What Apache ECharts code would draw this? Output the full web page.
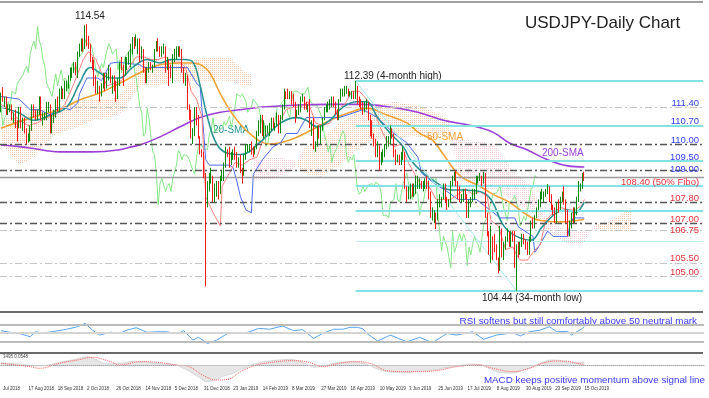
<!DOCTYPE html>
<html><head><meta charset="utf-8">
<script src="https://cdn.jsdelivr.net/npm/echarts@6/dist/echarts.min.js"></script>
<style>html,body{margin:0;padding:0;background:#fff}#c{width:709px;height:398px}</style>
</head><body><div id="c"></div>
<script>
// ---------- DATA ----------
const tickCats = [0,14,30,46,62,78,94,110,126,142,158,174,190,206,222,238,254,270,286,302,318];
const tickLabels = ["Jul 2018","17 Aug 2018","18 Sep 2018","2 Oct 2018","26 Oct 2018","14 Nov 2018","5 Dec 2018","31 Dec 2018","23 Jan 2019","14 Feb 2019","8 Mar 2019","27 Mar 2019","18 Apr 2019","10 May 2019","3 Jun 2019","25 Jun 2019","17 Jul 2019","8 Aug 2019","30 Aug 2019","23 Sep 2019","15 Oct 2019"];

const firstOpen = 111.5;
const closes = [111.85,111.70,111.70,111.25,111.40,111.40,111.00,111.10,110.90,110.70,111.20,110.70,110.90,110.50,110.10,110.30,110.55,111.30,111.25,111.10,
111.20,111.70,111.00,111.00,111.10,111.50,111.50,110.70,111.00,111.10,111.60,111.30,112.00,112.05,111.90,112.30,112.30,112.50,112.60,112.80,
112.95,112.70,113.40,113.70,113.90,113.60,114.45,113.90,113.70,113.20,112.95,112.30,112.15,112.20,111.80,112.25,112.65,112.20,112.55,112.80,
112.40,112.50,112.40,111.90,112.40,113.05,112.90,112.70,113.20,113.20,113.40,113.50,113.95,113.80,113.80,113.80,113.60,113.60,112.80,112.55,
112.80,113.05,112.90,112.95,113.55,113.80,113.65,113.40,113.50,113.60,112.80,113.20,112.70,112.65,113.30,113.40,113.40,113.60,113.40,112.80,
112.50,112.50,111.40,111.20,110.30,110.40,111.35,110.95,110.30,109.70,109.60,108.90,107.70,108.50,108.70,108.75,108.20,108.40,108.50,108.20,
108.70,108.70,109.20,109.75,109.65,109.40,109.60,109.65,109.55,109.40,109.40,109.00,108.85,109.50,109.90,109.95,109.95,109.80,109.75,109.80,
110.40,110.50,111.00,110.45,110.50,110.55,110.60,110.60,110.85,110.70,110.70,111.05,110.60,111.00,111.40,111.90,111.85,111.80,111.90,111.75,
111.60,111.20,111.25,111.40,111.70,111.70,111.50,111.40,111.40,110.70,110.80,109.90,110.00,110.60,110.50,110.60,110.90,111.35,111.40,111.50,
111.60,111.70,111.50,111.15,111.00,111.60,112.00,112.00,112.00,112.00,111.90,111.90,111.90,111.85,112.15,111.65,111.60,111.45,111.40,111.45,
111.50,111.10,110.80,110.30,110.10,109.70,109.95,109.30,109.60,109.60,109.90,110.10,110.10,110.50,110.35,109.60,109.30,109.50,109.40,109.60,
109.60,108.30,108.10,108.20,108.40,108.20,108.20,108.45,108.50,108.50,108.40,108.55,108.55,108.45,108.10,107.30,107.30,107.30,107.20,107.80,
107.80,107.90,108.50,107.90,107.80,107.80,108.50,108.70,108.90,108.45,108.40,107.90,107.90,108.20,108.10,107.30,107.70,107.80,108.20,108.20,
108.65,108.70,108.75,108.60,108.70,107.35,106.60,105.95,106.50,106.30,106.10,105.70,105.30,106.70,105.90,106.10,106.40,106.60,106.30,106.60,
106.40,105.40,106.10,105.80,106.20,106.50,106.30,106.20,105.90,106.40,106.95,106.90,107.25,107.55,107.80,108.10,108.10,108.15,108.15,108.40,
108.00,107.55,107.50,107.10,107.75,107.70,107.90,108.05,107.80,107.50,106.90,106.90,107.25,107.10,107.50,107.90,108.30,108.40,108.80,108.75];
const highs = [111.95,112.15,111.80,111.80,111.50,111.50,111.50,111.20,111.30,110.90,111.40,111.40,111.00,111.00,110.60,110.40,110.70,111.50,111.50,111.30,
111.30,111.80,111.80,111.20,111.20,111.60,111.60,111.50,111.10,111.30,111.70,111.80,112.10,112.20,112.10,112.40,112.40,112.60,112.90,112.90,
113.10,113.10,113.50,113.80,114.00,114.00,114.50,114.54,114.10,113.80,113.30,113.20,112.60,112.40,112.20,112.30,112.70,112.70,112.70,113.00,
112.90,112.60,112.60,112.40,112.50,113.10,113.30,113.00,113.30,113.30,113.50,113.80,114.05,114.05,114.15,114.00,114.00,113.70,113.60,112.90,
112.90,113.10,113.10,113.00,113.60,113.90,114.00,113.70,113.70,113.80,113.70,113.30,113.20,113.00,113.40,113.60,113.70,113.70,113.70,113.60,
112.90,112.70,112.60,111.50,111.30,110.60,111.40,111.40,111.10,110.30,109.80,109.70,108.90,108.60,108.90,109.10,108.80,108.50,108.60,108.60,
108.80,109.00,109.30,109.90,109.80,109.90,109.70,109.80,109.90,109.70,109.50,109.60,109.10,109.60,110.00,110.00,110.00,110.10,109.90,109.90,
110.50,110.90,111.10,111.10,110.90,110.70,110.70,110.80,111.00,111.00,110.80,111.20,111.10,111.10,111.50,112.10,112.00,112.10,112.00,112.00,
111.90,111.60,111.30,111.50,111.80,111.90,111.80,111.60,111.50,111.70,110.90,111.00,110.10,110.70,110.70,110.70,111.00,111.40,111.50,111.60,
111.70,111.80,111.80,111.60,111.30,111.70,112.10,112.10,112.20,112.20,112.10,112.00,112.00,112.00,112.39,112.20,111.80,111.70,111.60,111.60,
111.70,111.60,111.10,110.90,110.40,110.20,110.10,109.90,109.70,109.80,110.00,110.30,110.30,110.70,110.60,110.40,109.80,109.60,109.60,109.70,
109.90,109.70,108.40,108.40,108.50,108.50,108.50,108.80,108.80,108.70,108.60,108.60,108.70,108.80,108.60,108.20,107.60,107.50,107.40,107.90,
108.10,108.00,108.50,108.50,108.00,107.90,108.60,108.80,108.95,109.00,108.60,108.40,108.10,108.30,108.30,108.10,107.90,108.00,108.30,108.30,
108.80,108.80,108.90,108.80,108.95,108.90,107.40,106.70,106.90,106.50,106.60,106.20,105.70,106.90,106.80,106.30,106.50,106.80,106.70,106.70,
106.70,106.70,106.20,106.30,106.30,106.60,106.60,106.40,106.30,106.50,107.10,107.20,107.30,107.60,107.90,108.20,108.30,108.20,108.30,108.48,
108.40,108.10,107.70,107.60,107.80,107.90,108.00,108.20,108.40,107.90,107.40,107.10,107.40,107.60,107.60,108.00,108.60,108.50,108.90,108.95];
const lows = [111.20,111.60,111.40,111.10,111.10,111.20,110.90,110.80,110.60,110.10,110.60,110.60,110.50,110.40,110.00,110.05,110.10,110.50,111.00,110.90,
110.90,111.10,110.90,110.70,110.90,110.90,111.20,110.40,110.40,110.80,111.00,111.20,111.20,111.70,111.70,111.70,112.00,112.10,112.40,112.50,
112.70,112.60,112.50,113.30,113.50,113.50,113.60,113.70,113.60,113.10,112.80,112.20,111.90,111.90,111.60,111.80,112.10,112.00,112.10,112.40,
112.30,111.90,112.00,111.60,111.70,112.20,112.80,112.20,112.60,112.80,113.00,112.90,113.40,113.60,113.70,113.40,113.10,113.20,112.70,112.30,
112.30,112.70,112.80,112.70,112.90,113.50,113.50,113.30,113.30,113.40,112.70,112.80,112.20,112.50,112.30,113.10,113.20,113.30,113.30,112.70,
112.30,112.20,111.30,110.90,110.20,110.00,110.30,110.70,110.20,109.60,109.50,108.70,104.60,107.60,108.20,108.50,107.80,107.80,108.00,107.90,
108.10,108.60,108.60,109.10,109.50,109.10,109.20,109.40,109.40,109.10,109.10,108.90,108.50,108.80,109.40,109.70,109.70,109.60,109.50,109.60,
109.80,110.30,110.40,110.30,110.20,110.30,110.40,110.30,110.50,110.60,110.50,110.70,110.40,110.40,110.90,111.30,111.70,111.70,111.70,111.50,
111.40,110.80,111.00,111.10,111.20,111.60,111.30,111.30,111.20,110.60,110.30,109.80,109.70,109.90,110.20,110.00,110.50,110.90,111.20,111.20,
111.30,111.40,111.40,111.10,110.90,110.90,111.60,111.80,111.80,111.90,111.80,111.80,111.70,111.70,111.70,111.50,111.40,111.30,111.10,111.20,
111.30,110.90,110.30,110.20,109.90,109.50,109.50,109.00,109.20,109.30,109.50,109.80,109.90,110.00,110.20,109.50,109.20,109.30,109.20,109.20,
109.40,108.30,107.80,107.90,107.90,108.00,108.00,108.10,108.30,108.30,108.30,108.20,108.30,108.30,107.90,107.20,107.10,107.00,106.78,107.10,
107.60,107.60,107.90,107.80,107.50,107.60,107.80,108.40,108.60,108.40,107.90,107.80,107.80,107.80,107.90,107.20,107.20,107.60,107.80,107.90,
108.10,108.50,108.60,108.40,108.50,107.20,106.50,105.80,105.50,105.60,105.90,105.60,105.10,105.20,105.70,105.60,106.00,106.30,106.10,106.10,
106.30,105.30,104.44,105.70,105.80,106.10,106.20,106.00,105.80,105.80,106.30,106.80,106.80,107.20,107.50,107.60,107.90,107.80,108.00,108.10,
107.80,107.50,107.30,107.00,107.00,107.40,107.50,107.80,107.70,107.00,106.50,106.50,106.80,107.00,107.00,107.30,107.80,108.20,108.30,108.60];

const sma20 = [[0,111.4],[10,111.17],[18,110.9],[27,111.1],[36,111.4],[43,112.3],[49,112.9],[54,112.7],[60,112.5],[65,112.5],[72,112.9],[80,113.2],[87,113.07],[93,113.2],[100,113.2],[105,113.1],[109,112.2],[113,111.0],[118,110.0],[124,109.65],[131,109.6],[143,110.15],[153,110.8],[162,111.0],[167,110.9],[173,110.65],[180,110.9],[187,111.4],[195,111.6],[200,111.6],[206,111.0],[213,110.4],[220,109.9],[224,109.4],[231,108.9],[239,108.5],[246,108.26],[253,108.26],[262,108.2],[268,107.9],[275,106.9],[282,106.5],[290,106.36],[296,106.86],[304,107.4],[310,107.5],[314,107.4],[319,107.8]];
const sma50 = [[0,110.6],[16,110.98],[32,111.3],[43,111.67],[54,111.93],[65,112.3],[76,112.7],[87,113.0],[98,113.07],[105,113.07],[113,112.8],[120,111.9],[127,111.1],[136,110.4],[147,110.0],[158,110.15],[169,110.5],[180,110.9],[191,111.2],[200,111.36],[211,111.1],[222,110.8],[229,110.4],[236,110.15],[242,109.6],[251,108.8],[262,108.4],[269,108.1],[278,107.8],[288,107.3],[295,107.1],[306,107.05],[315,107.1],[319,107.15]];
const sma200 = [[0,109.96],[10,109.9],[16,109.85],[32,109.7],[50,109.7],[64,109.77],[72,109.9],[76,109.96],[87,110.27],[98,110.65],[109,111.0],[120,111.2],[131,111.3],[143,111.4],[162,111.48],[180,111.5],[198,111.5],[213,111.4],[228,111.2],[242,110.9],[257,110.7],[269,110.45],[278,110.04],[288,109.77],[299,109.4],[310,109.17],[319,109.13]];
const kijun = [[0,111.8],[10,111.7],[16,111.3],[21,111.3],[27,111.1],[32,111.4],[38,111.3],[42,111.55],[43,111.9],[47,112.5],[53,112.5],[55,112.4],[60,113.06],[64,113.1],[76,113.0],[78,112.9],[102,112.9],[107,112.3],[109,112.16],[112,109.4],[114,109.2],[125,109.2],[127,109.1],[129,108.6],[131,108.0],[134,107.5],[137,107.4],[138,108.85],[143,109.4],[149,109.9],[153,110.04],[156,110.4],[162,110.4],[167,111.0],[185,111.0],[198,111.3],[206,111.0],[215,110.4],[222,110.04],[228,109.5],[230,108.9],[239,108.4],[242,108.3],[250,107.9],[260,107.9],[273,107.2],[281,107.2],[283,106.86],[291,106.5],[292,105.9],[294,106.1],[299,106.7],[302,106.5],[310,106.5],[311,106.9],[313,107.2],[319,107.2]];
const tenkan = [[0,111.5],[5,111.3],[10,110.9],[15,110.7],[20,110.8],[25,111.0],[30,111.1],[35,111.5],[40,112.3],[45,113.2],[48,113.5],[52,113.2],[55,112.7],[58,112.2],[62,112.3],[66,112.4],[70,112.9],[74,113.3],[78,113.3],[82,113.2],[86,113.2],[90,113.3],[94,113.1],[98,113.1],[101,112.9],[104,112.0],[107,111.7],[110,111.0],[112,108.0],[116,107.4],[120,106.9],[121,108.4],[125,108.9],[128,109.3],[132,109.2],[136,109.4],[140,109.5],[144,110.3],[148,110.5],[152,110.8],[156,111.3],[160,111.4],[164,111.4],[168,111.6],[172,110.8],[176,110.7],[180,110.8],[184,111.3],[188,111.5],[192,112.0],[196,112.0],[200,111.7],[204,111.3],[207,110.7],[211,110.1],[215,109.9],[219,110.0],[222,109.4],[226,108.9],[230,108.4],[234,108.4],[238,107.9],[242,107.9],[246,107.9],[250,108.1],[254,108.3],[258,108.1],[262,108.2],[266,108.0],[268,107.1],[272,106.9],[276,106.0],[280,106.1],[282,105.8],[284,105.6],[288,105.6],[291,105.9],[295,106.2],[298,107.1],[302,107.4],[306,107.6],[310,107.5],[314,107.5],[318,107.7],[319,107.9]];
const cloudCats = [0,10,18,30,40,50,60,66,72,76,85,95,105,115,125,132,137,138,150,160,165,175,185,195,205,215,225,235,245,250,252,262,270,280,290,300,310,318,325,332,338,345];
const spanA = [111.0,111.0,111.3,111.3,111.6,111.7,111.7,111.9,112.5,113.2,113.2,113.0,113.2,113.3,113.3,112.8,112.6,108.6,108.7,109.0,109.8,110.2,110.8,111.2,111.5,111.6,111.5,111.3,110.9,108.8,108.6,108.3,108.3,107.9,107.4,106.65,106.2,106.2,106.95,107.05,107.3,107.6];
const spanB = [110.0,109.2,109.5,110.4,110.6,110.9,111.0,111.2,111.8,112.2,112.2,112.4,112.4,112.4,112.4,112.2,112.2,109.4,109.5,109.4,108.9,108.75,109.2,109.8,110.2,110.2,110.3,110.2,110.3,110.2,110.15,110.1,110.0,109.0,108.4,107.05,106.72,106.72,106.72,106.7,106.7,106.67];
const rsi = [[0,55.5],[5,51.6],[10,49],[16,41],[19,53],[23,50],[28,53],[36,59],[42,65],[46,73],[50,57],[54,45],[60,52],[65,49],[69,57],[74,62.6],[80,51.6],[85,53],[91,53],[94,49],[98,51],[100,55.5],[105,33],[108,40],[113,25],[118,33],[124,49],[129,49],[135,51.6],[141,61],[147,59],[154,66.7],[160,55.5],[165,58],[171,37.3],[176,49],[182,59],[187,59],[191,63.5],[195,63.5],[198,60],[200,49],[206,31],[213,45],[222,29],[229,39.7],[236,27],[244,49],[249,45],[258,53],[264,35],[271,45],[280,50.7],[284,43],[289,53],[295,57],[300,65],[304,53],[310,54],[312,45],[318,61],[319,65]];
const rsiLevels = [70, 50, 30];
const macdHist = [[0,0.25],[10,0.1],[20,-0.1],[25,-0.05],[32,0.3],[40,0.6],[47,0.92],[52,0.6],[56,0.2],[60,0.15],[66,0.2],[72,0.4],[78,0.4],[84,0.2],[90,0.1],[95,0.05],[98,-0.2],[104,-0.8],[110,-1.6],[112,-1.85],[117,-1.7],[122,-1.2],[126,-1.0],[130,-0.6],[134,-0.3],[138,0.1],[145,0.4],[152,0.55],[158,0.63],[164,0.4],[168,0.0],[171,-0.25],[176,-0.15],[182,0.2],[188,0.35],[194,0.4],[198,0.25],[202,-0.1],[208,-0.6],[214,-0.8],[222,-0.85],[228,-0.7],[236,-0.6],[242,-0.35],[250,-0.1],[256,0.1],[262,0.05],[266,-0.3],[272,-0.8],[278,-0.9],[282,-0.85],[286,-0.5],[290,-0.3],[294,0.1],[298,0.45],[302,0.55],[306,0.5],[310,0.3],[314,0.25],[319,0.35]];
const macdSignal = [[0,0.19],[16,-0.19],[21,-0.37],[32,0.19],[42,0.56],[50,0.85],[60,0.37],[65,0],[76,0.37],[85,0.3],[96,0],[103,-0.19],[110,-1.1],[118,-1.67],[124,-1.6],[131,-0.74],[140,0],[151,0.37],[160,0.48],[169,0.26],[176,-0.19],[185,0.19],[195,0.37],[203,0.1],[211,-0.63],[222,-0.74],[231,-0.74],[240,-0.56],[249,-0.19],[262,0],[269,-0.37],[280,-0.74],[289,-0.37],[296,0.19],[304,0.44],[310,0.4],[315,0.19],[319,0.06]];

const darkLevels = [110.00, 109.00, 107.80, 107.00];
const lightLevels = [111.40, 106.75, 105.50, 105.00];
const bidPrice = 108.75;
const fibLevels = [112.39, 110.69, 109.35, 108.41, 107.48, 106.32, 104.44];
const fibHigh = [194, 112.39];
const fibLow = [282, 104.44];
const rightLabels = [["111.40",111.40],["110.70",110.69],["110.00",110.00],["109.50",109.35],["109.00",109.00],["108.40 (50% Fibo)",108.41],["107.80",107.80],["107.00",107.00],["106.75",106.75],["105.50",105.50],["105.00",105.00]];

// ---------- BUILD ----------
const FONT = 'Liberation Sans, Arial, sans-serif';
const NC = 385;
const catData = Array.from({length: NC}, (_, i) => String(i));
const labelMap = {};
tickCats.forEach((c, k) => { labelMap[c] = tickLabels[k]; });
const isTick = (i) => labelMap[i] !== undefined;

const ohlc = closes.map((c, i) => {
  const o = i === 0 ? firstOpen : closes[i - 1];
  return [o, c, Math.min(lows[i], o, c), Math.max(highs[i], o, c)];
});
const chikou = closes.slice(26).map((c, i) => [i, c]);

function dotPattern(color, sx, sy) {
  const cv = document.createElement('canvas');
  cv.width = sx; cv.height = sy;
  const g = cv.getContext('2d');
  g.fillStyle = color; g.fillRect(0, 0, 1, 1);
  return { image: cv, repeat: 'repeat' };
}
const patOrange = dotPattern('rgba(242,165,120,0.6)', 2, 2);
const patPink = dotPattern('rgba(238,160,178,0.55)', 2, 2);

const BLUE = '#2f3ef0', RED = '#e8323c', DASHDOT = [7, 3, 2, 3];

const ml = [];
darkLevels.forEach(v => ml.push({ yAxis: v, lineStyle: { color: '#555', width: 1.3, type: DASHDOT } }));
lightLevels.forEach(v => ml.push({ yAxis: v, lineStyle: { color: '#c4c4c4', width: 1.2, type: DASHDOT } }));
ml.push({ yAxis: bidPrice, lineStyle: { color: '#9a9a9a', width: 1.4, type: 'solid' } });
fibLevels.forEach(v => {
  const thin = v === 106.32;
  ml.push([{ coord: [fibHigh[0], v], lineStyle: { color: thin ? '#bdf0f0' : '#84e2e2', width: thin ? 1 : 2, type: 'solid' } }, { coord: [NC - 1, v] }]);
});
ml.push([{ coord: fibHigh, lineStyle: { color: '#a6ecec', width: 1, type: 'solid' } }, { coord: fibLow }]);

const mp = rightLabels.map(([t, v]) => ({
  coord: [NC - 1, v], symbolSize: 0,
  label: { show: true, position: 'left', distance: 4, formatter: t, color: v > 108.5 ? BLUE : RED,
    fontSize: 9.5, fontFamily: FONT, offset: [0, t === '109.00' ? -1 : (t === '106.75' ? 0.5 : -4)] }
}));

const lineS = (data, color, width, extra) => Object.assign({
  type: 'line', xAxisIndex: 0, yAxisIndex: 0, data, showSymbol: false, symbol: 'none', silent: true,
  lineStyle: { color, width }, z: 4
}, extra || {});

const chart = echarts.init(document.getElementById('c'), null, { renderer: 'canvas', width: 709, height: 398 });
chart.setOption({
  animation: false,
  backgroundColor: '#fff',
  grid: [
    { left: 0, width: 704, top: 3, height: 308 },
    { left: 0, width: 704, top: 312, height: 42 },
    { left: 0, width: 704, top: 354, height: 30 }
  ],
  xAxis: [
    { type: 'category', gridIndex: 0, data: catData, show: false },
    { type: 'category', gridIndex: 1, data: catData, show: false },
    { type: 'category', gridIndex: 2, data: catData,
      axisLine: { lineStyle: { color: '#a0a0a0', width: 1 } },
      axisTick: { alignWithLabel: true, interval: isTick, length: 7, lineStyle: { color: '#444' } },
      axisLabel: { interval: isTick, formatter: v => labelMap[v] || '', fontSize: 4.5, color: '#333', align: 'left', margin: 2.5, padding: [0, 0, 0, 2], fontFamily: FONT },
      splitLine: { show: false } }
  ],
  yAxis: [
    { type: 'value', gridIndex: 0, min: 103.674, max: 115.341, show: false },
    { type: 'value', gridIndex: 1, min: 0, max: 100, show: false },
    { type: 'value', gridIndex: 2, min: -2.111, max: 1.222, show: false }
  ],
  series: [
    { type: 'custom', xAxisIndex: 0, yAxisIndex: 0, data: [[0, 110]], silent: true, z: 1, clip: true,
      encode: { x: 0, y: 1 },
      renderItem: (params, api) => {
        const children = [];
        for (let k = 0; k < cloudCats.length - 1; k++) {
          const c0 = cloudCats[k], c1 = cloudCats[k + 1];
          const pts = [api.coord([c0, spanA[k]]), api.coord([c1, spanA[k + 1]]), api.coord([c1, spanB[k + 1]]), api.coord([c0, spanB[k]])];
          const bull = (spanA[k] + spanA[k + 1]) >= (spanB[k] + spanB[k + 1]);
          children.push({ type: 'polygon', shape: { points: pts }, style: { fill: bull ? patOrange : patPink } });
        }
        return { type: 'group', children };
      } },
    lineS(chikou, '#86e886', 1, { z: 3 }),
    lineS(sma200, '#9b3fd6', 1.6, { smooth: 0.4 }),
    lineS(sma50, '#f5a234', 1.6, { smooth: 0.4 }),
    lineS(kijun, '#4c6af2', 1, {}),
    lineS(tenkan, '#ff8080', 1, {}),
    lineS(sma20, '#2a9494', 1.6, { smooth: 0.4 }),
    { type: 'candlestick', xAxisIndex: 0, yAxisIndex: 0, data: ohlc, barWidth: 1.3, silent: true, z: 5,
      itemStyle: { color: '#0a9a0a', color0: '#ff1a1a', borderColor: '#0a8a0a', borderColor0: '#ff1a1a', borderWidth: 1 },
      markLine: { symbol: 'none', silent: true, animation: false, label: { show: false }, data: ml },
      markPoint: { symbol: 'circle', symbolSize: 0, silent: true, animation: false, data: mp } },
    { type: 'line', xAxisIndex: 1, yAxisIndex: 1, data: rsi, showSymbol: false, silent: true,
      lineStyle: { color: '#5aa6f0', width: 1 }, z: 4,
      markLine: { symbol: 'none', silent: true, animation: false, label: { show: false },
        data: rsiLevels.map(v => ({ yAxis: v, lineStyle: { color: v === 50 ? '#d4d4d4' : '#bcbcbc', width: 2, type: 'solid' } })) } },
    { type: 'line', xAxisIndex: 2, yAxisIndex: 2, data: macdHist, showSymbol: false, silent: true, smooth: 0.3,
      lineStyle: { color: '#c8c8c8', width: 0.6 }, areaStyle: { color: '#dcdcdc' }, z: 2,
      markLine: { symbol: 'none', silent: true, animation: false, label: { show: false },
        data: [{ yAxis: 0, lineStyle: { color: '#c8c8c8', width: 1, type: 'dotted' } }] } },
    { type: 'line', xAxisIndex: 2, yAxisIndex: 2, data: macdSignal, showSymbol: false, silent: true, smooth: 0.4,
      lineStyle: { color: '#ff5a5a', width: 1, type: 'dotted' }, z: 4 }
  ],
  graphic: [
    { type: 'line', shape: { x1: 0, y1: 2, x2: 703, y2: 2 }, style: { stroke: '#808080', lineWidth: 1.5 }, silent: true },
    { type: 'line', shape: { x1: 0, y1: 312, x2: 703, y2: 312 }, style: { stroke: '#6a6a6a', lineWidth: 2 }, silent: true },
    { type: 'line', shape: { x1: 0, y1: 353, x2: 703, y2: 353 }, style: { stroke: '#6a6a6a', lineWidth: 2 }, silent: true },
    { type: 'text', x: 525, y: 23, style: { text: 'USDJPY-Daily Chart', fill: '#222', font: '17px ' + FONT, textVerticalAlign: 'middle' }, silent: true },
    { type: 'text', x: 90, y: 16, style: { text: '114.54', fill: '#222', font: '10px ' + FONT, textAlign: 'center', textVerticalAlign: 'middle' }, silent: true },
    { type: 'text', x: 344, y: 76, style: { text: '112.39 (4-month high)', fill: '#222', font: '10px ' + FONT, textVerticalAlign: 'middle' }, silent: true },
    { type: 'text', x: 482, y: 298, style: { text: '104.44 (34-month low)', fill: '#222', font: '10px ' + FONT, textVerticalAlign: 'middle' }, silent: true },
    { type: 'text', x: 213, y: 130, style: { text: '20-SMA', fill: '#2a9494', font: '10px ' + FONT, textVerticalAlign: 'middle' }, silent: true },
    { type: 'text', x: 427, y: 137, style: { text: '50-SMA', fill: '#f5a234', font: '10px ' + FONT, textVerticalAlign: 'middle' }, silent: true },
    { type: 'text', x: 542, y: 153, style: { text: '200-SMA', fill: '#9b3fd6', font: '10px ' + FONT, textVerticalAlign: 'middle' }, silent: true },
    { type: 'text', x: 697, y: 321, style: { text: 'RSI softens but still comfortably above 50 neutral mark', fill: '#3a3aff', font: '9.8px ' + FONT, textAlign: 'right', textVerticalAlign: 'middle' }, silent: true },
    { type: 'text', x: 705, y: 380, style: { text: 'MACD keeps positive momentum above signal line', fill: '#3a3aff', font: '9.8px ' + FONT, textAlign: 'right', textVerticalAlign: 'middle' }, silent: true },
    { type: 'text', x: 3, y: 357, style: { text: '3495 0.0548', fill: '#444', font: '4.5px ' + FONT, textVerticalAlign: 'middle' }, silent: true }
  ]
});
</script>
</body></html>
